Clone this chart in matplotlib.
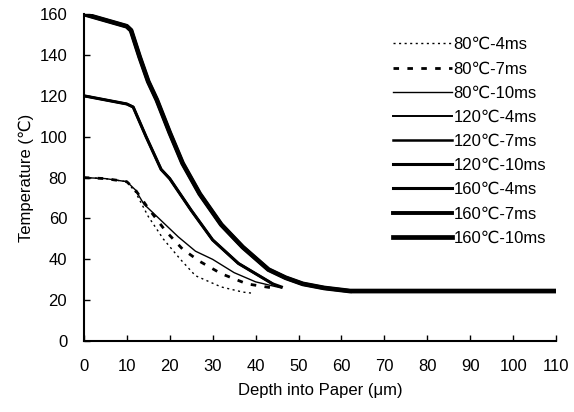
import matplotlib
matplotlib.use("Agg")
import matplotlib.pyplot as plt

plt.rcParams['font.family'] = ['Liberation Sans', 'DejaVu Sans']

# depth (um) and temperature (C)
x_80_4 = [0, 5, 10, 12, 15, 18.5, 22.5, 26, 32, 37, 39]
y_80_4 = [80, 79.5, 78, 73, 61, 50, 40, 32, 26.5, 24, 23.5]
x_80_7 = [0, 5, 10, 12, 15, 19, 23, 27, 32, 38, 44]
y_80_7 = [80, 79.5, 78, 74, 65, 54, 45, 39, 33, 28, 26]
x_80_10 = [0, 5, 10, 12, 14, 18, 22, 26, 30, 35, 40, 46]
y_80_10 = [80, 79.5, 78, 74, 67, 59, 51, 44, 40, 33.5, 29, 26]

x_120 = [0, 5, 10, 11.5, 14.5, 18, 20, 25, 30, 36, 40, 44, 46]
y_120 = [120, 118, 116, 114.5, 100, 84, 79.5, 64, 49.5, 38, 33, 28, 26.5]
ends_120 = {'4': 11, '7': 12, '10': 13}

x_160 = [0, 5, 10, 11, 13, 15, 17, 20, 23, 27, 32, 37, 43, 47, 51, 56, 62, 70, 80, 90, 100, 110]
y_160 = [160, 157, 154, 152, 139, 127, 118, 102, 87, 72, 57, 46, 35, 31, 28, 26, 24.5, 24.5, 24.5, 24.5, 24.5, 24.5]

labels = ['80℃-4ms', '80℃-7ms', '80℃-10ms', '120℃-4ms', '120℃-7ms',
          '120℃-10ms', '160℃-4ms', '160℃-7ms', '160℃-10ms']

fig = plt.figure(figsize=(5.74, 4.12), dpi=100)
ax = fig.add_axes([0.146, 0.172, 0.823, 0.794])

ax.plot(x_80_4, y_80_4, color='black', lw=1.0, ls=(0, (1.5, 2.5)), label=labels[0])
ax.plot(x_80_7, y_80_7, color='black', lw=2.0, ls=(0, (2, 3)), label=labels[1])
ax.plot(x_80_10, y_80_10, color='black', lw=1.0, label=labels[2])
ax.plot(x_120[:ends_120['4']], y_120[:ends_120['4']], color='black', lw=1.4, label=labels[3])
ax.plot(x_120[:ends_120['7']], y_120[:ends_120['7']], color='black', lw=1.8, label=labels[4])
ax.plot(x_120[:ends_120['10']], y_120[:ends_120['10']], color='black', lw=2.2, label=labels[5])
ax.plot(x_160[:15], y_160[:15], color='black', lw=2.2, label=labels[6])
ax.plot(x_160[:17], y_160[:17], color='black', lw=2.8, label=labels[7])
ax.plot(x_160, y_160, color='black', lw=3.4, label=labels[8])

ax.set_xlim(0, 110)
ax.set_ylim(0, 160)
ax.set_xticks(range(0, 111, 10))
ax.set_yticks(range(0, 161, 20))
ax.spines['top'].set_visible(False)
ax.spines['right'].set_visible(False)
ax.spines['left'].set_linewidth(1.5)
ax.spines['bottom'].set_linewidth(1.5)
ax.tick_params(direction='in', length=4, width=1, labelsize=12)
ax.tick_params(axis='x', pad=13)
ax.tick_params(axis='y', pad=12)
ax.set_xlabel('Depth into Paper (μm)', fontsize=12, labelpad=6)
ax.set_ylabel('Temperature (℃)', fontsize=12, labelpad=4)

ax.legend(loc='upper right', bbox_to_anchor=(1.01, 0.975), frameon=False,
          fontsize=12, handlelength=3.5, handletextpad=0.1, labelspacing=0.55)

fig.savefig('out.png', dpi=100)
